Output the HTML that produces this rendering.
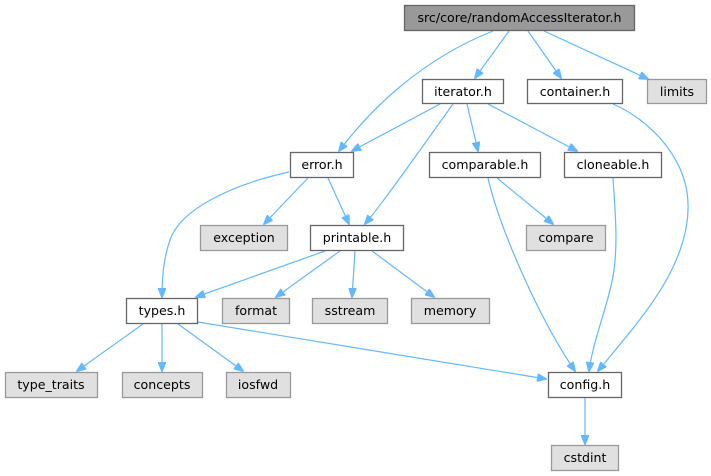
<!DOCTYPE html>
<html><head><meta charset="utf-8"><style>
html,body{margin:0;padding:0;background:#fff;}
svg{display:block}
text{font-family:"DejaVu Sans","Liberation Sans",sans-serif;font-size:12.6px;fill:#000;text-anchor:middle}
.w{fill:#fff;stroke:#666;stroke-width:1.3}
.g{fill:#e0e0e0;stroke:#999;stroke-width:1.3}
.r{fill:#999;stroke:#666;stroke-width:1.3}
path{fill:none;stroke:#63b8ff;stroke-width:1.2}
</style></head><body>
<svg width="711" height="476" viewBox="0 0 711 476" xmlns="http://www.w3.org/2000/svg">
<defs><marker id="a" markerWidth="10" markerHeight="8" refX="9" refY="4" orient="auto" markerUnits="userSpaceOnUse"><polygon points="0,0 10,4 0,8" fill="#63b8ff" stroke="#63b8ff"/></marker></defs>
<path marker-end="url(#a)" d="M493,31 C420,60 370,110 339,151"/>
<path marker-end="url(#a)" d="M509,31 L475,78"/>
<path marker-end="url(#a)" d="M528,31 L561,78"/>
<path marker-end="url(#a)" d="M544,31 L648,79"/>
<path marker-end="url(#a)" d="M440,104 L352,151"/>
<path marker-end="url(#a)" d="M453,104 C420,150 385,200 365,224"/>
<path marker-end="url(#a)" d="M467,104 L478,151"/>
<path marker-end="url(#a)" d="M488,104 L577,151"/>
<path marker-end="url(#a)" d="M613,104 C650,120 690,160 688,210 C686,270 640,320 598,371"/>
<path marker-end="url(#a)" d="M289,172 C230,185 180,210 170,240 C163,260 162,280 162,297"/>
<path marker-end="url(#a)" d="M308,178 L264,224"/>
<path marker-end="url(#a)" d="M328,178 L349,224"/>
<path marker-end="url(#a)" d="M325,251 L196,297"/>
<path marker-end="url(#a)" d="M340,251 L276,297"/>
<path marker-end="url(#a)" d="M355,251 L352,297"/>
<path marker-end="url(#a)" d="M372,251 L434,297"/>
<path marker-end="url(#a)" d="M497,178 L553,224"/>
<path marker-end="url(#a)" d="M488,178 C500,230 540,320 575,371"/>
<path marker-end="url(#a)" d="M613,178 C615,210 618,240 614,270 C610,300 593,340 589,371"/>
<path marker-end="url(#a)" d="M198,322 L546,379"/>
<path marker-end="url(#a)" d="M143,324 L77,371"/>
<path marker-end="url(#a)" d="M162,324 L162,371"/>
<path marker-end="url(#a)" d="M178,324 L243,371"/>
<path marker-end="url(#a)" d="M585,398 L585,444"/>
<rect class="r" x="404.5" y="5.5" width="230" height="25"/><text x="519.5" y="22">src/core/randomAccessIterator.h</text>
<rect class="w" x="422.5" y="79.5" width="81" height="24"/><text x="463" y="96">iterator.h</text>
<rect class="w" x="527.5" y="79.5" width="95" height="24"/><text x="575" y="96">container.h</text>
<rect class="g" x="647.5" y="79.5" width="59" height="24"/><text x="677" y="96">limits</text>
<rect class="w" x="290.5" y="152.5" width="63" height="25"/><text x="322" y="169">error.h</text>
<rect class="w" x="429.5" y="152.5" width="111" height="25"/><text x="485" y="169">comparable.h</text>
<rect class="w" x="564.5" y="152.5" width="97" height="25"/><text x="613" y="169">cloneable.h</text>
<rect class="g" x="200.5" y="225.5" width="87" height="25"/><text x="244" y="242">exception</text>
<rect class="w" x="310.5" y="225.5" width="93" height="25"/><text x="357" y="242">printable.h</text>
<rect class="g" x="526.5" y="225.5" width="79" height="25"/><text x="566" y="242">compare</text>
<rect class="w" x="126.5" y="298.5" width="71" height="25"/><text x="162" y="315">types.h</text>
<rect class="g" x="222.5" y="298.5" width="67" height="25"/><text x="256" y="315">format</text>
<rect class="g" x="312.5" y="298.5" width="75" height="25"/><text x="350" y="315">sstream</text>
<rect class="g" x="411.5" y="298.5" width="78" height="25"/><text x="450" y="315">memory</text>
<rect class="g" x="5.5" y="372.5" width="92" height="25"/><text x="51" y="389">type_traits</text>
<rect class="g" x="122.5" y="372.5" width="80" height="25"/><text x="162" y="389">concepts</text>
<rect class="g" x="226.5" y="372.5" width="64" height="25"/><text x="258" y="389">iosfwd</text>
<rect class="w" x="548.5" y="372.5" width="73" height="25"/><text x="585" y="389">config.h</text>
<rect class="g" x="551.5" y="445.5" width="67" height="25"/><text x="585" y="462">cstdint</text>
</svg>
</body></html>
